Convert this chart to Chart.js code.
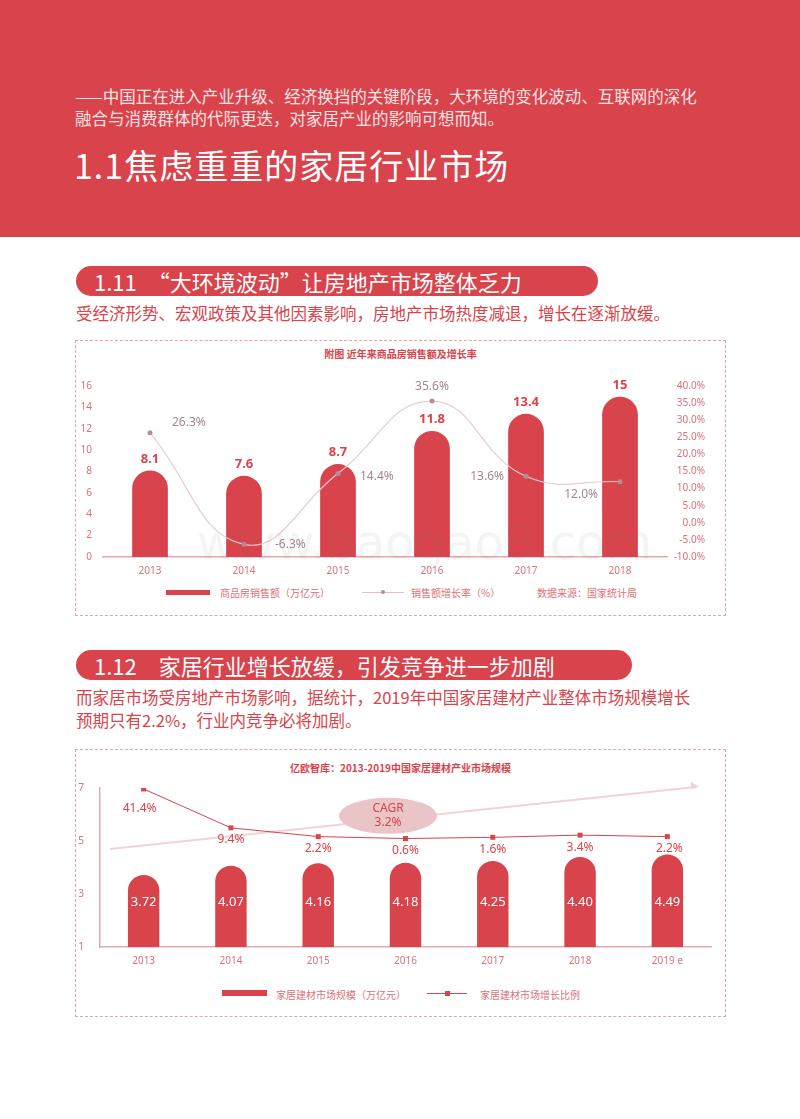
<!DOCTYPE html>
<html><head><meta charset="utf-8">
<script src="https://cdn.jsdelivr.net/npm/chart.js@4"></script>
<style>
body{margin:0;width:800px;height:1119px;position:relative;background:#fff;font-family:"Noto Sans CJK SC","Noto Sans",sans-serif;overflow:hidden}
.abs{position:absolute}
#hdr{left:0;top:0;width:800px;height:237px;background:#d9434c}
.pill{background:#d9434c;color:#fff;border-radius:16px;height:30px;line-height:30px;font-size:22px;padding-left:18px;box-sizing:border-box}
.box{border:1px dashed #e9a3a8;box-sizing:border-box}
.txt{color:#d9434c;font-size:16.5px;line-height:23px}
.lg{font-size:10px;color:#d9737a;white-space:nowrap}
</style></head><body>
<div id="hdr" class="abs"></div>
<div class="abs" style="left:75px;top:85px;width:636px;color:#fbe3e4;font-size:16.5px;line-height:22px">——中国正在进入产业升级、经济换挡的关键阶段，大环境的变化波动、互联网的深化融合与消费群体的代际更迭，对家居产业的影响可想而知。</div>
<div class="abs" style="left:74px;top:140px;color:#fff;font-size:34px;font-weight:400;letter-spacing:1px">1.1焦虑重重的家居行业市场</div>
<div class="abs pill" style="left:76px;top:266px;width:522px">1.11　“大环境波动”让房地产市场整体乏力</div>
<div class="abs txt" style="left:76px;top:302px">受经济形势、宏观政策及其他因素影响，房地产市场热度减退，增长在逐渐放缓。</div>
<div class="abs box" style="left:75px;top:340px;width:651px;height:276px"></div>
<div class="abs" style="left:75px;top:346px;width:651px;text-align:center;font-size:10px;font-weight:bold;color:#d9434c">附图 近年来商品房销售额及增长率</div>
<div class="abs" style="left:166px;top:590px;width:44px;height:5px;background:#d9434c"></div>
<div class="abs lg" style="left:220px;top:585px">商品房销售额（万亿元）</div>
<div class="abs" style="left:362px;top:592px;width:42px;height:1px;background:#e0c0c4"></div>
<div class="abs" style="left:381px;top:590px;width:4px;height:4px;border-radius:2px;background:#b88c96"></div>
<div class="abs lg" style="left:411px;top:585px">销售额增长率（%）</div>
<div class="abs lg" style="left:537px;top:585px">数据来源：国家统计局</div>
<canvas id="c1" class="abs" style="left:76px;top:365px;width:649px;height:220px"></canvas>

<div class="abs pill" style="left:76px;top:650px;width:556px">1.12　家居行业增长放缓，引发竞争进一步加剧</div>
<div class="abs txt" style="left:76px;top:686px;width:622px">而家居市场受房地产市场影响，据统计，2019年中国家居建材产业整体市场规模增长预期只有2.2%，行业内竞争必将加剧。</div>
<div class="abs box" style="left:75px;top:749px;width:651px;height:268px"></div>
<div class="abs" style="left:75px;top:760px;width:651px;text-align:center;font-size:10px;font-weight:bold;color:#d9434c">亿欧智库：2013-2019中国家居建材产业市场规模</div>
<div class="abs" style="left:222px;top:990px;width:45px;height:6px;background:#d9434c"></div>
<div class="abs lg" style="left:276px;top:987px">家居建材市场规模（万亿元）</div>
<div class="abs" style="left:427px;top:993px;width:40px;height:1px;background:#d9434c"></div>
<div class="abs" style="left:445px;top:991px;width:5px;height:5px;background:#d9434c"></div>
<div class="abs lg" style="left:480px;top:987px">家居建材市场增长比例</div>
<canvas id="c2" class="abs" style="left:76px;top:770px;width:649px;height:205px"></canvas>
<script>
const years1 = ['2013','2014','2015','2016','2017','2018'];
const sales = [8.1,7.6,8.7,11.8,13.4,15];
const salesGrowth = [26.3,-6.3,14.4,35.6,13.6,12.0];
const leftTicks1 = [0,16,2];
const rightTicks1 = [-10,40,5];

const years2 = ['2013','2014','2015','2016','2017','2018','2019 e'];
const market = [3.72,4.07,4.16,4.18,4.25,4.40,4.49];
const marketGrowth = [41.4,9.4,2.2,0.6,1.6,3.4,2.2];
const leftTicks2 = [1,7,2];
const cagrText = ['CAGR','3.2%'];

const RED='#d9434c', PINK='#d9737a';
Chart.defaults.font.family='"Noto Sans","Noto Sans CJK SC",sans-serif';
const g1Off=[[22,-10,'left'],[31,0,'left'],[22,3,'left'],[0,-14,'center'],[-22,0,'right'],[-22,13,'right']];
new Chart(document.getElementById('c1'),{
 data:{labels:years1,datasets:[
  {type:'line',data:salesGrowth,yAxisID:'y2',borderColor:'#e8cdd1',borderWidth:1.2,tension:0.45,pointRadius:2.5,pointBackgroundColor:'#b88c96',pointBorderWidth:0,order:0},
  {type:'bar',data:sales,yAxisID:'y',backgroundColor:RED,barPercentage:0.38,categoryPercentage:1,borderRadius:{topLeft:100,topRight:100},borderSkipped:'bottom',order:1}
 ]},
 options:{responsive:false,animation:false,maintainAspectRatio:false,
  layout:{padding:{top:21,right:20,left:0}},
  plugins:{legend:{display:false},tooltip:{enabled:false}},
  scales:{
   x:{grid:{display:false,drawTicks:false},border:{color:'#e6a7ad',width:1.5},ticks:{color:PINK,font:{size:10},padding:8}},
   y:{min:leftTicks1[0],max:leftTicks1[1],ticks:{stepSize:leftTicks1[2],color:PINK,font:{size:10},padding:3},grid:{display:false},border:{display:false},afterFit:s=>{s.width=27}},
   y2:{position:'right',min:rightTicks1[0],max:rightTicks1[1],ticks:{stepSize:rightTicks1[2],color:PINK,font:{size:10},padding:0,crossAlign:'far',callback:v=>v.toFixed(1)+'%'},grid:{display:false},border:{display:false},afterFit:s=>{s.width=38}}
  }},
 plugins:[{id:'lbl',afterDatasetsDraw(c){const x=c.ctx;x.save();
  const bm=c.getDatasetMeta(1).data;x.fillStyle=RED;x.font='bold 13px "Noto Sans"';x.textAlign='center';x.textBaseline='bottom';
  bm.forEach((b,i)=>x.fillText(sales[i],b.x,b.y-5));
  const lm=c.getDatasetMeta(0).data;x.fillStyle='#a58690';x.font='12px "Noto Sans"';x.textBaseline='middle';
  lm.forEach((p,i)=>{const o=g1Off[i];x.textAlign=o[2];x.fillText(salesGrowth[i].toFixed(1)+'%',p.x+o[0],p.y+o[1]);});
  x.fillStyle='rgba(120,120,120,0.08)';x.font='48px "DejaVu Sans"';x.textAlign='center';x.fillText('www.baogao8.com',c.chartArea.left+c.chartArea.width*0.57,c.chartArea.bottom-10);
  x.restore();}}]
});

new Chart(document.getElementById('c2'),{
 data:{labels:years2,datasets:[
  {type:'line',data:marketGrowth,yAxisID:'y2',borderColor:RED,borderWidth:1,pointStyle:'rect',pointRadius:3.5,pointBackgroundColor:RED,pointBorderWidth:0,tension:0,order:0},
  {type:'bar',data:market,yAxisID:'y',backgroundColor:RED,barPercentage:0.36,categoryPercentage:1,borderRadius:{topLeft:100,topRight:100},borderSkipped:'bottom',order:1}
 ]},
 options:{responsive:false,animation:false,maintainAspectRatio:false,
  layout:{padding:{top:18,right:14,left:0}},
  plugins:{legend:{display:false},tooltip:{enabled:false}},
  scales:{
   x:{grid:{display:false,drawTicks:false},border:{color:'#e6a7ad',width:1.5},ticks:{color:PINK,font:{size:10},padding:8}},
   y:{min:leftTicks2[0],max:leftTicks2[1],ticks:{stepSize:leftTicks2[2],color:PINK,font:{size:10},padding:8},grid:{display:false},border:{color:'#e6a7ad',width:1.5},afterFit:s=>{s.width=24}},
   y2:{display:false,min:-88.7,max:42.2}
  }},
 plugins:[{id:'deco',beforeDatasetsDraw(c){const x=c.ctx,a=c.chartArea,y=c.scales.y;x.save();
   const x0=a.left+10,y0=y.getPixelForValue(4.7),x1=a.right-20,y1=y.getPixelForValue(7.02);
   x.strokeStyle='#f0d3d6';x.lineWidth=2;x.beginPath();x.moveTo(x0,y0);x.lineTo(x1,y1);x.stroke();
   x.fillStyle='#f0d3d6';x.beginPath();const ang=Math.atan2(y1-y0,x1-x0);
   x.moveTo(x1+8*Math.cos(ang),y1+8*Math.sin(ang));x.lineTo(x1-4*Math.sin(ang),y1+4*Math.cos(ang)-2);x.lineTo(x1+4*Math.sin(ang),y1-4*Math.cos(ang)-2);x.fill();
   const cx=c.scales.x.getPixelForValue(2.8),cy=y.getPixelForValue(5.95);
   x.fillStyle='#e9c5c8';x.beginPath();x.ellipse(cx,cy,49,18,0,0,Math.PI*2);x.fill();
   x.fillStyle=RED;x.font='12px "Noto Sans"';x.textAlign='center';x.textBaseline='middle';x.fillText(cagrText[0],cx,cy-7);x.fillText(cagrText[1],cx,cy+7);
   x.restore();},
  afterDatasetsDraw(c){const x=c.ctx;x.save();x.textAlign='center';x.textBaseline='middle';
   const bm=c.getDatasetMeta(1).data;x.fillStyle='#fff';x.font='13px "Noto Sans"';
   bm.forEach((b,i)=>x.fillText(market[i].toFixed(2),b.x,c.scales.y.getPixelForValue(2.7)));
   const lm=c.getDatasetMeta(0).data;x.fillStyle=RED;x.font='12px "Noto Sans"';
   lm.forEach((p,i)=>x.fillText(marketGrowth[i].toFixed(1)+'%',p.x+(i==0?-4:i==6?2:0),p.y+(i==0?20:12)));
   x.restore();}}]
});
</script></body></html>
